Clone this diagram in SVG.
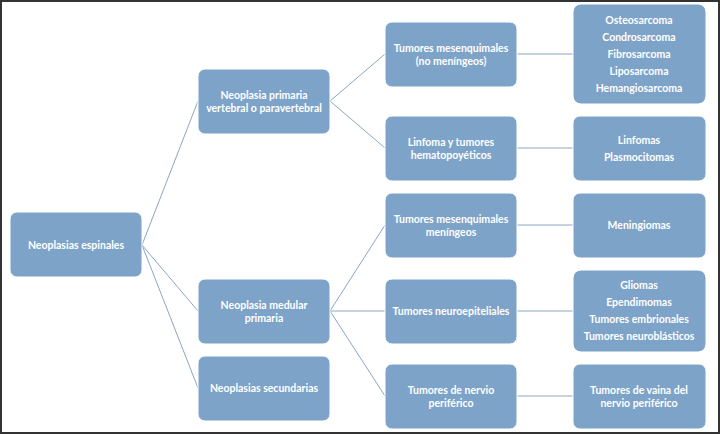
<svg xmlns="http://www.w3.org/2000/svg" width="720" height="434" viewBox="0 0 720 434">
<style>
.n{fill:#7ea3c8;stroke:#fff;stroke-width:1}
.t{font-family:Lato,"Open Sans",sans-serif;font-weight:bold;font-size:10.5px;fill:#fff;text-anchor:middle}
.c{stroke:#8aa6c4;stroke-width:1;fill:none}
</style>
<rect x="0" y="0" width="720" height="434" fill="#fff"/>
<rect x="1" y="1" width="718" height="432" fill="none" stroke="#333" stroke-width="2"/>
<g id="connectors">
<path class="c" d="M142,245 L198,101 M142,245 L198,311 M142,245 L198,388"/>
<path class="c" d="M330,101 L385,54 M330,101 L385,148"/>
<path class="c" d="M330,311 L385,225 M330,311 L385,311 M330,311 L385,396"/>
<path class="c" d="M517,54 L573,54 M517,148 L573,148 M517,225 L573,225 M517,311 L573,311 M517,396 L573,396"/>
</g>
<g id="root"><rect class="n" x="10" y="212" width="132" height="65" rx="7"/><text class="t" x="76" y="249">Neoplasias espinales</text></g>
<g id="n1a"><rect class="n" x="198" y="69" width="132" height="65" rx="7"/><text class="t" x="264" y="99">Neoplasia primaria</text><text class="t" x="264" y="112">vertebral o paravertebral</text></g>
<g id="n1b"><rect class="n" x="198" y="279" width="132" height="65" rx="7"/><text class="t" x="264" y="309">Neoplasia medular</text><text class="t" x="264" y="322">primaria</text></g>
<g id="n1c"><rect class="n" x="198" y="356" width="132" height="65" rx="7"/><text class="t" x="264" y="392">Neoplasias secundarias</text></g>
<g id="n2a"><rect class="n" x="385" y="22" width="132" height="65" rx="7"/><text class="t" x="451" y="52">Tumores mesenquimales</text><text class="t" x="451" y="65">(no meníngeos)</text></g>
<g id="n2b"><rect class="n" x="385" y="116" width="132" height="65" rx="7"/><text class="t" x="451" y="146">Linfoma y tumores</text><text class="t" x="451" y="159">hematopoyéticos</text></g>
<g id="n2c"><rect class="n" x="385" y="193" width="132" height="65" rx="7"/><text class="t" x="451" y="223">Tumores mesenquimales</text><text class="t" x="451" y="236">meníngeos</text></g>
<g id="n2d"><rect class="n" x="385" y="279" width="132" height="65" rx="7"/><text class="t" x="451" y="315">Tumores  neuroepiteliales</text></g>
<g id="n2e"><rect class="n" x="385" y="364" width="132" height="65" rx="7"/><text class="t" x="451" y="394">Tumores de nervio</text><text class="t" x="451" y="407">periférico</text></g>
<g id="n3a"><rect class="n" x="573" y="4" width="133" height="100" rx="8"/><text class="t" x="639" y="24">Osteosarcoma</text><text class="t" x="639" y="41">Condrosarcoma</text><text class="t" x="639" y="58">Fibrosarcoma</text><text class="t" x="639" y="75">Liposarcoma</text><text class="t" x="639" y="92">Hemangiosarcoma</text></g>
<g id="n3b"><rect class="n" x="573" y="116" width="133" height="65" rx="7"/><text class="t" x="639" y="144">Linfomas</text><text class="t" x="639" y="161">Plasmocitomas</text></g>
<g id="n3c"><rect class="n" x="573" y="193" width="133" height="65" rx="7"/><text class="t" x="639" y="229">Meningiomas</text></g>
<g id="n3d"><rect class="n" x="573" y="270" width="133" height="82" rx="8"/><text class="t" x="639" y="289">Gliomas</text><text class="t" x="639" y="306">Ependimomas</text><text class="t" x="639" y="323">Tumores embrionales</text><text class="t" x="639" y="340">Tumores neuroblásticos</text></g>
<g id="n3e"><rect class="n" x="573" y="364" width="133" height="65" rx="7"/><text class="t" x="639" y="394">Tumores de vaina del</text><text class="t" x="639" y="407">nervio periférico</text></g>
</svg>
